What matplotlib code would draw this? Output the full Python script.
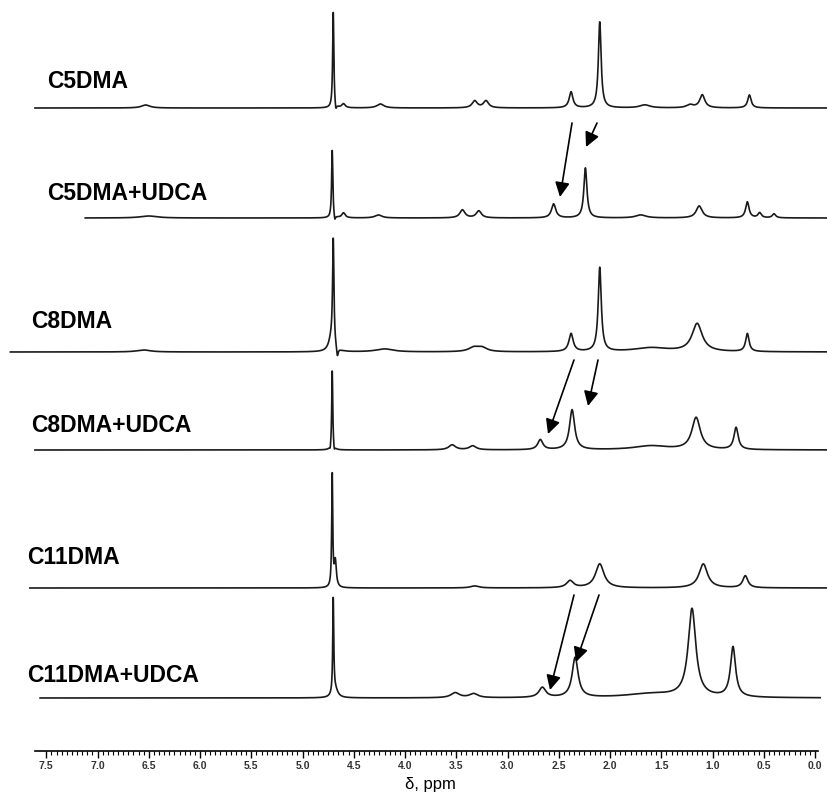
import numpy as np
import matplotlib.pyplot as plt

plt.rcParams['font.family'] = ['Liberation Sans', 'DejaVu Sans']

# escala de la imagen: 0 ppm en x=815 px, 102.5 px por ppm, eje en y=751 px
X0 = 815
PX_PPM = 102.5
EJE_Y = 751

def ppm(xpx):
    return (X0 - xpx) / PX_PPM

def alto(ypx):
    return EJE_Y - ypx

nombres = ['C5DMA', 'C5DMA+UDCA', 'C8DMA', 'C8DMA+UDCA', 'C11DMA', 'C11DMA+UDCA']

# picos: posicion (ppm), altura (px), semiancho (ppm)
c5_pos = [6.53, 4.70, 4.675, 4.60, 4.24, 3.32, 3.21, 2.38, 2.10, 1.66, 1.22, 1.10, 0.64]
c5_alt = [3, 96, -7, 4, 4, 7, 7, 16, 86, 3, 3, 13, 13]
c5_anc = [.05, .007, .008, .02, .04, .03, .03, .022, .016, .06, .04, .03, .02]

c5u_pos = [6.5, 4.71, 4.685, 4.60, 4.26, 3.44, 3.28, 2.55, 2.24, 1.70, 1.13, 0.66, 0.54, 0.40]
c5u_alt = [2, 68, -6, 5, 3, 8, 7, 14, 50, 3, 12, 16, 5, 4]
c5u_anc = [.1, .007, .008, .02, .04, .03, .03, .025, .018, .06, .035, .02, .02, .02]

c8_pos = [6.55, 4.72, 4.70, 4.66, 4.2, 3.33, 3.25, 2.38, 2.10, 1.6, 1.15, 0.66]
c8_alt = [2, 12, 106, -10, 3, 4, 4, 18, 84, 4, 28, 18]
c8_anc = [.08, .03, .008, .01, .1, .06, .06, .025, .018, .2, .06, .02]

c8u_pos = [4.73, 4.71, 4.69, 3.54, 3.34, 2.68, 2.37, 1.6, 1.16, 0.77]
c8u_alt = [-4, 80, -5, 5, 4, 10, 40, 4, 32, 22]
c8u_anc = [.006, .006, .006, .04, .04, .03, .03, .2, .05, .025]

c11_pos = [4.71, 4.68, 3.32, 2.39, 2.10, 1.09, 0.68]
c11_alt = [112, 26, 2, 7, 24, 24, 12]
c11_anc = [.006, .012, .05, .04, .05, .05, .03]

c11u_pos = [4.70, 4.68, 3.51, 3.33, 2.66, 2.34, 1.6, 1.20, 0.80]
c11u_alt = [95, 8, 5, 4, 10, 40, 4, 88, 50]
c11u_anc = [.006, .03, .05, .05, .04, .035, .3, .045, .03]

picos = [(c5_pos, c5_alt, c5_anc), (c5u_pos, c5u_alt, c5u_anc),
         (c8_pos, c8_alt, c8_anc), (c8u_pos, c8u_alt, c8u_anc),
         (c11_pos, c11_alt, c11_anc), (c11u_pos, c11u_alt, c11u_anc)]

# linea base de cada espectro (px en la imagen) y rango en ppm
bases = [108, 218, 352, 450, 588, 698]
inicio = [7.61, 7.12, 7.85, 7.61, 7.66, 7.56]
fin = [-0.11, -0.11, -0.11, -0.11, -0.11, -0.05]

# etiquetas: x, y en px
etiq_x = [47, 47, 31, 31, 27, 27]
etiq_y = [82, 193, 321, 426, 558, 676]

# flechas: (cola x, cola y, punta x, punta y) en px
flechas = [(572, 123, 560, 197), (597, 123, 586, 147),
           (574, 360, 548, 434), (598, 360, 588, 406),
           (574, 595, 550, 690), (599, 595, 576, 662)]


def espectro(x, pos, alt, anc):
    y = np.zeros_like(x)
    for p, h, w in zip(pos, alt, anc):
        y += h / (1 + ((x - p) / w) ** 2)
    return y


fig = plt.figure(figsize=(8.27, 7.98), dpi=100)
ax = fig.add_axes([0, (798 - EJE_Y) / 798, 1, EJE_Y / 798])
ax.set_xlim(ppm(0), ppm(827))
ax.set_ylim(0, EJE_Y)

for i in range(len(nombres)):
    pos, alt, anc = picos[i]
    x = np.linspace(inicio[i], fin[i], 9000)
    y = alto(bases[i]) + espectro(x, pos, alt, anc)
    ax.plot(x, y, color='#1a1a1a', lw=1.2)
    ax.text(ppm(etiq_x[i]), alto(etiq_y[i]), nombres[i], ha='left', va='center',
            fontsize=16.5, fontweight='bold', color='black')

for x1, y1, x2, y2 in flechas:
    ax.annotate('', xy=(ppm(x2), alto(y2)), xytext=(ppm(x1), alto(y1)),
                arrowprops=dict(arrowstyle='-|>', color='black', lw=1.2,
                                mutation_scale=22, shrinkA=0, shrinkB=0))

for lado in ['top', 'left', 'right']:
    ax.spines[lado].set_visible(False)
ax.spines['bottom'].set_bounds(7.61, -0.03)
ax.spines['bottom'].set_linewidth(1.2)
ax.set_yticks([])
ax.set_xticks(np.arange(0, 7.51, 0.5))
ax.set_xticks(np.arange(0, 7.51, 0.05), minor=True)
ax.set_xticklabels(['%.1f' % v for v in np.arange(0, 7.51, 0.5)], fontweight='bold')
ax.tick_params(axis='x', which='major', direction='out', length=5, width=1,
               labelsize=7.5, pad=2, labelcolor='#333333')
ax.tick_params(axis='x', which='minor', direction='out', length=3, width=0.8)
ax.patch.set_visible(False)

fig.text(430 / 827, 1 - 785 / 798, 'δ, ppm', ha='center', va='center', fontsize=12)

fig.savefig('out.png', dpi=100)
